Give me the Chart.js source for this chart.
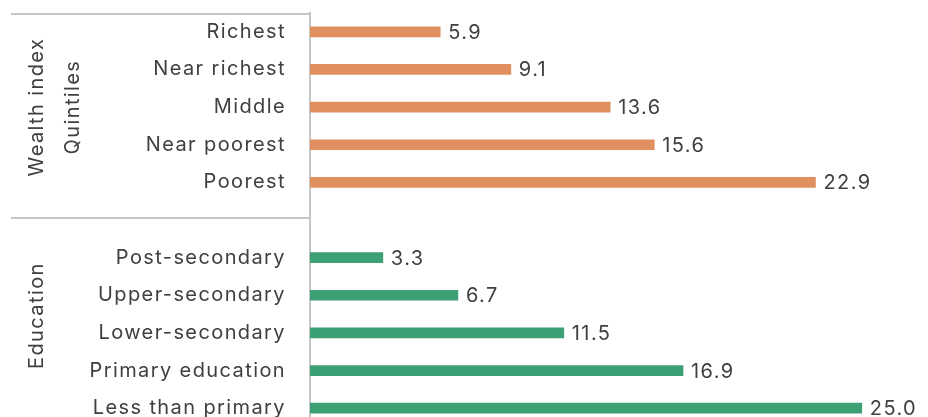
<!DOCTYPE html>
<html lang="en">
<head>
    <meta charset="UTF-8">
    <title>Wealth index and education</title>
    <style>
        html, body {
            margin: 0;
            padding: 0;
            background: #fff;
            overflow: hidden;
        }
        canvas {
            display: block;
        }
    </style>
</head>
<body>
    <canvas id="chart" width="928" height="427"></canvas>

    <script src="https://cdn.jsdelivr.net/npm/chart.js"></script>
    <script>
        // Categories, top to bottom (blank slot separates the two groups)
        const wealthLabels = ['Richest', 'Near richest', 'Middle', 'Near poorest', 'Poorest'];
        const educationLabels = ['Post-secondary', 'Upper-secondary', 'Lower-secondary', 'Primary education', 'Less than primary'];

        // Values
        const wealthValues = [5.9, 9.1, 13.6, 15.6, 22.9];
        const educationValues = [3.3, 6.7, 11.5, 16.9, 25.0];

        // Group titles on the left
        const wealthGroupTitle = ['Wealth index', 'Quintiles'];
        const educationGroupTitle = ['Education'];

        const textColor = '#404040';
        const lineColor = '#c6c6c6';
        const fontFamily = 'Inter, "Noto Sans", sans-serif';
        const fontSize = 20;
        const spacing = '1.4px';

        const labels = wealthLabels.concat([''], educationLabels);
        const gap = wealthLabels.map(() => null);
        const wealthData = wealthValues.concat([null], gap);
        const educationData = gap.concat([null], educationValues);

        // wider tracking for all text on the canvas
        const tracking = {
            id: 'tracking',
            beforeLayout(chart) { chart.ctx.letterSpacing = spacing; },
            beforeDraw(chart) { chart.ctx.letterSpacing = spacing; }
        };

        // value labels after each bar
        const valueLabels = {
            id: 'valueLabels',
            afterDatasetsDraw(chart) {
                const ctx = chart.ctx;
                ctx.save();
                ctx.font = fontSize + 'px ' + fontFamily;
                ctx.fillStyle = textColor;
                ctx.textAlign = 'left';
                ctx.textBaseline = 'middle';
                chart.data.datasets.forEach((ds, i) => {
                    chart.getDatasetMeta(i).data.forEach((bar, j) => {
                        const v = ds.data[j];
                        if (v === null) return;
                        ctx.fillText(v.toFixed(1), bar.x + 8, bar.y + 1);
                    });
                });
                ctx.restore();
            }
        };

        // group lines and rotated group titles
        const groupFrame = {
            id: 'groupFrame',
            afterDraw(chart) {
                const ctx = chart.ctx;
                const area = chart.chartArea;
                const y = chart.scales.y;
                const sepY = y.getPixelForValue(5) - 2;

                ctx.save();
                ctx.strokeStyle = lineColor;
                ctx.lineWidth = 2;
                ctx.beginPath();
                ctx.moveTo(11, area.top + 1);
                ctx.lineTo(area.left, area.top + 1);
                ctx.moveTo(11, sepY);
                ctx.lineTo(area.left, sepY);
                ctx.stroke();

                ctx.font = fontSize + 'px ' + fontFamily;
                ctx.fillStyle = textColor;
                ctx.textAlign = 'center';
                ctx.textBaseline = 'middle';

                const drawTitle = (lines, cy) => {
                    lines.forEach((t, k) => {
                        ctx.save();
                        ctx.translate(37 + k * 36, cy);
                        ctx.rotate(-Math.PI / 2);
                        ctx.fillText(t, 0, 0);
                        ctx.restore();
                    });
                };
                drawTitle(wealthGroupTitle, (y.getPixelForValue(0) + y.getPixelForValue(4)) / 2);
                // lower group is cut off at the bottom of the picture
                drawTitle(educationGroupTitle, (sepY + y.getPixelForValue(10) + 5) / 2);
                ctx.restore();
            }
        };

        const ctx = document.getElementById('chart').getContext('2d');

        new Chart(ctx, {
            type: 'bar',
            data: {
                labels: labels,
                datasets: [
                    {
                        label: 'Wealth index quintiles',
                        data: wealthData,
                        backgroundColor: '#e0905e'
                    },
                    {
                        label: 'Education',
                        data: educationData,
                        backgroundColor: '#3d9f74'
                    }
                ]
            },
            options: {
                indexAxis: 'y',
                responsive: false,
                animation: false,
                grouped: false,
                barThickness: 10,
                layout: {
                    padding: { top: 13, left: 0, right: 0, bottom: 0 }
                },
                plugins: {
                    legend: { display: false },
                    tooltip: { enabled: false }
                },
                scales: {
                    x: {
                        display: false,
                        min: 0,
                        max: 28
                    },
                    y: {
                        grid: { display: false, drawTicks: false },
                        border: { display: true, color: lineColor, width: 2 },
                        ticks: {
                            padding: 24,
                            color: textColor,
                            font: { family: fontFamily, size: fontSize }
                        },
                        afterFit(scale) {
                            scale.width = 310;
                            scale.paddingTop = 0;
                            scale.paddingBottom = 0;
                        }
                    }
                }
            },
            plugins: [tracking, valueLabels, groupFrame]
        });
    </script>
</body>
</html>
